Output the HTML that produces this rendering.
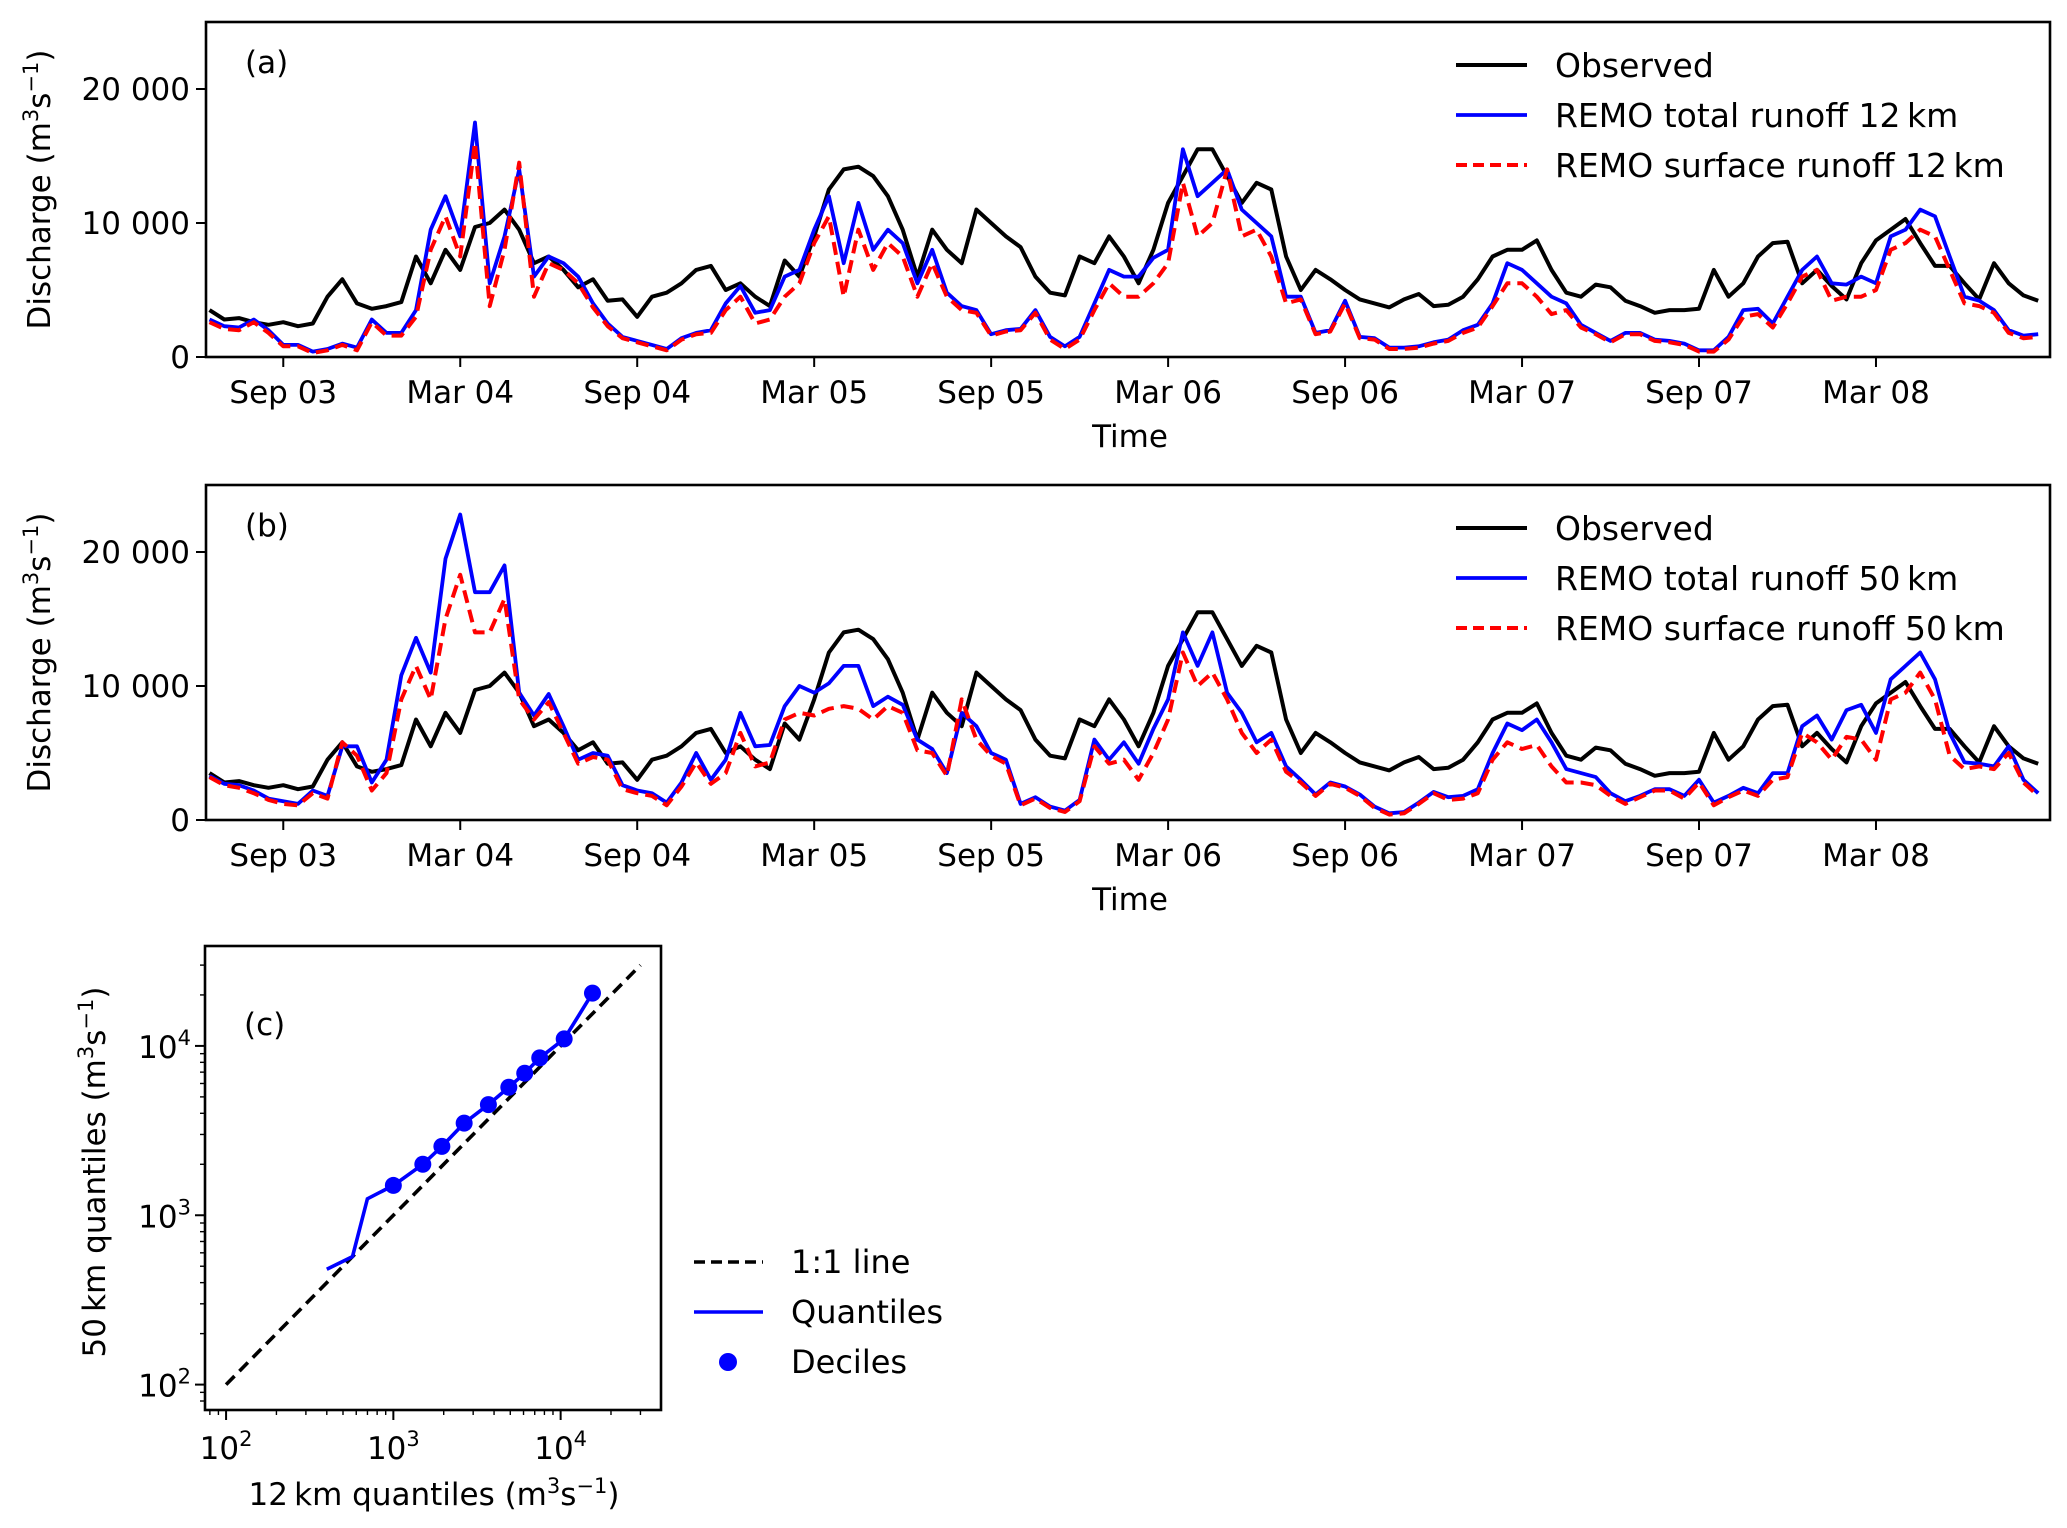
<!DOCTYPE html>
<html><head><meta charset="utf-8">
<style>
html,body{margin:0;padding:0;background:#fff;}
svg{display:block;font-family:"DejaVu Sans","Liberation Sans",sans-serif;}
</style></head>
<body>
<svg id="fig" width="2067" height="1528" viewBox="0 0 2067 1528" xmlns="http://www.w3.org/2000/svg"></svg>
<script>
// ---- time grid: half-month steps, months since 1 Sep 2003 ----
const tStart = -2.5, tStep = 0.5;
const observed = [3500,2800,2900,2600,2400,
2600,2300,2500,4500,5800,4000,3600,3800,4100,7500,5500,8000,
6500,9700,10000,11000,9500,7000,7500,6500,5200,5800,4200,4300,
3000,4500,4800,5500,6500,6800,5000,5500,4500,3800,7200,6000,
9000,12500,14000,14200,13500,12000,9500,6000,9500,8000,7000,11000,
10000,9000,8200,6000,4800,4600,7500,7000,9000,7500,5500,8000,
11500,13500,15500,15500,13500,11500,13000,12500,7500,5000,6500,5800,
5000,4300,4000,3700,4300,4700,3800,3900,4500,5800,7500,8000,
8000,8700,6500,4800,4500,5400,5200,4200,3800,3300,3500,3500,
3600,6500,4500,5500,7500,8500,8600,5500,6500,5300,4300,7000,
8700,9500,10300,8500,6800,6800,5500,4300,7000,5500,4600,4200];
const total12 = [2800,2300,2200,2800,2000,
900,900,400,600,1000,700,2800,1800,1800,3500,9500,12000,
9000,17500,5500,9000,14000,6000,7500,7000,6000,4000,2500,1500,
1200,900,600,1400,1800,2000,4000,5300,3300,3500,6000,6500,
9500,12000,7000,11500,8000,9500,8500,5500,8000,4800,3800,3500,
1700,2000,2100,3500,1500,800,1500,4000,6500,6000,6000,7400,
8000,15500,12000,13000,14000,11000,10000,9000,4500,4500,1800,2000,
4200,1500,1400,700,700,800,1100,1300,2000,2400,4000,7000,
6500,5500,4500,4000,2400,1800,1200,1800,1800,1300,1200,1000,
500,500,1500,3500,3600,2500,4500,6500,7500,5500,5400,6000,
5500,9000,9500,11000,10500,7500,4500,4200,3500,2000,1600,1700];
const surface12 = [2600,2100,2000,2600,1800,
800,800,300,500,900,500,2600,1600,1600,3000,8000,10500,
7500,16000,3800,8000,14500,4500,7000,6500,5500,3700,2300,1400,
1100,800,500,1300,1700,1800,3500,4500,2500,2800,4500,5500,
8500,10500,4500,9500,6500,8500,7500,4500,7000,4500,3500,3300,
1600,1900,2000,3300,1300,600,1300,3500,5500,4500,4500,5500,
7000,13000,9000,10000,14000,9000,9500,7500,4000,4300,1700,1900,
4000,1400,1300,600,600,700,1000,1200,1800,2200,3800,5500,
5500,4500,3200,3500,2200,1700,1100,1700,1700,1200,1100,900,
400,400,1300,3000,3200,2200,4000,6000,6500,4200,4500,4500,
5000,8000,8500,9500,9000,6500,4000,3800,3300,1800,1400,1500];
const total50 = [3300,2700,2600,2200,1600,
1400,1200,2200,1800,5500,5500,2800,4500,10800,13600,11000,19500,
22800,17000,17000,19000,9500,7800,9400,7000,4500,5000,4800,2600,
2200,2000,1300,2800,5000,3000,4500,8000,5500,5600,8500,10000,
9500,10200,11500,11500,8500,9200,8600,6000,5300,3500,8000,7000,
5000,4500,1200,1700,1000,700,1500,6000,4500,5800,4200,6800,
9000,14000,11500,14000,9500,8000,5800,6500,4000,3000,1900,2800,
2500,1900,1000,500,600,1300,2100,1700,1800,2300,5000,7200,
6700,7500,5800,3800,3500,3200,2000,1400,1800,2300,2300,1800,
3000,1300,1800,2400,2000,3500,3500,7000,7800,6000,8200,8600,
6500,10500,11500,12500,10500,6500,4300,4200,4000,5500,3000,2000];
const surface50 = [3200,2600,2400,2000,1500,
1200,1100,2000,1600,5800,4800,2200,3500,9000,11500,9000,15000,
18300,14000,14000,16500,9000,7500,8800,6500,4200,4700,4500,2300,
2000,1800,1100,2500,4300,2700,3500,6500,4000,4300,7500,8000,
7800,8300,8500,8300,7500,8500,8000,5200,5000,3300,9000,6000,
4800,4200,1100,1600,900,600,1400,5500,4200,4500,3000,5000,
7500,12500,10000,11000,9000,6500,5000,6000,3600,2800,1800,2700,
2400,1800,900,400,500,1200,2000,1500,1600,2000,4500,5800,
5300,5600,4000,2800,2800,2600,1800,1200,1700,2200,2200,1600,
2800,1100,1700,2200,1800,3000,3200,6500,5800,4500,6200,6000,
4500,9000,9500,11000,9000,4800,3800,4000,3800,5000,2800,1800];
const timeTickLabels = ["Sep 03","Mar 04","Sep 04","Mar 05","Sep 05","Mar 06","Sep 06","Mar 07","Sep 07","Mar 08"];
const timeTickMonths = [0,6,12,18,24,30,36,42,48,54];
const yTickValues = [0,10000,20000];
const yTickLabels = ["0","10 000","20 000"];
// ---- panel c data ----
const quantX = [400,570,700,1000,1500,1950,2650,3700,4900,6100,7500,10500,12500,15500];
const quantY = [480,570,1250,1500,2000,2550,3500,4500,5700,6900,8500,11000,14500,20500];
const decileX = [1000,1500,1950,2650,3700,4900,6100,7500,10500,15500];
const decileY = [1500,2000,2550,3500,4500,5700,6900,8500,11000,20500];
const oneToOne = [100,30000];
const logTickExps = [2,3,4];

const NS="http://www.w3.org/2000/svg";
const svg=document.getElementById('fig');
function mk(tag,attrs,parent){const e=document.createElementNS(NS,tag);for(const k in attrs)e.setAttribute(k,attrs[k]);(parent||svg).appendChild(e);return e;}

const X0=206,X1=2050;
const tMin=-2.62,tMax=59.9;
function xT(t){return X0+(t-tMin)/(tMax-tMin)*(X1-X0);}

function timePanel(top,bottom,series,letter,legendLabels,pname){
  const g=mk('g',{});
  
  
  const yV=v=>bottom-v/25000*(bottom-top);
  const styles=[{c:'#000',w:4,d:null,n:'observed-line'},{c:'#0000ff',w:3.8,d:null,n:'total-runoff-line'},{c:'#ff0000',w:4,d:'13,7',n:'surface-runoff-line'}];
  series.forEach((arr,si)=>{
    let d='';
    arr.forEach((v,i)=>{const t=tStart+i*tStep;d+=(i?'L':'M')+xT(t).toFixed(1)+','+yV(v).toFixed(1);});
    const p=mk('path',{d:d,fill:'none',stroke:styles[si].c,'stroke-width':styles[si].w,'stroke-linejoin':'round'},g);
    if(styles[si].d)p.setAttribute('stroke-dasharray',styles[si].d);
    
    
  });
  const fr=mk('rect',{x:X0,y:top,width:X1-X0,height:bottom-top,fill:'none',stroke:'#000','stroke-width':2.6},g);
  
  
  yTickValues.forEach((v,i)=>{
    mk('line',{x1:X0-10,x2:X0,y1:yV(v),y2:yV(v),stroke:'#000','stroke-width':2},g);
    const tx=mk('text',{x:X0-16,y:yV(v)+11,'text-anchor':'end','font-size':31},g);
    tx.textContent=yTickLabels[i];
    
    
  });
  timeTickMonths.forEach((m,i)=>{
    const x=xT(m);
    mk('line',{x1:x,x2:x,y1:bottom,y2:bottom+10,stroke:'#000','stroke-width':2},g);
    const tx=mk('text',{x:x,y:bottom+46,'text-anchor':'middle','font-size':31},g);
    tx.textContent=timeTickLabels[i];
    
    
  });
  const xl=mk('text',{x:1130,y:bottom+90,'text-anchor':'middle','font-size':31},g);
  xl.textContent='Time';
  
  
  const cy=(top+bottom)/2;
  const yl=mk('text',{x:0,y:0,'text-anchor':'middle','font-size':31,transform:`translate(50,${cy}) rotate(-90)`},g);
  yl.innerHTML='Discharge (m<tspan dy="-12" font-size="21">3</tspan><tspan dy="12">s</tspan><tspan dy="-12" font-size="21">−1</tspan><tspan dy="12">)</tspan>';
  
  
  const pl=mk('text',{x:245,y:top+51,'font-size':31},g);
  pl.textContent=letter;
  
  
  legendLabels.forEach((lab,i)=>{
    const ly=top+43+i*50;
    const ln=mk('line',{x1:1456,x2:1527,y1:ly,y2:ly,stroke:styles[i].c,'stroke-width':styles[i].w},g);
    if(styles[i].d)ln.setAttribute('stroke-dasharray','11,6');
    
    
    const tx=mk('text',{x:1555,y:ly+12,'font-size':33},g);
    tx.textContent=lab;
    
    
  });
}
timePanel(22,357,[observed,total12,surface12],'(a)',['Observed','REMO total runoff 12\u2009km','REMO surface runoff 12\u2009km'],'panel-a');
timePanel(485,820,[observed,total50,surface50],'(b)',['Observed','REMO total runoff 50\u2009km','REMO surface runoff 50\u2009km'],'panel-b');

// ---- panel c ----
const CL=205,CR=661,CT=946,CB=1410;
const lxMin=1.874,lxMax=4.6,lyMin=1.85,lyMax=4.59;
const cx=v=>CL+(Math.log10(v)-lxMin)/(lxMax-lxMin)*(CR-CL);
const cy=v=>CB-(Math.log10(v)-lyMin)/(lyMax-lyMin)*(CB-CT);
const gc=mk('g',{});


const ol=mk('line',{x1:cx(oneToOne[0]),y1:cy(oneToOne[0]),x2:cx(oneToOne[1]),y2:cy(oneToOne[1]),stroke:'#000','stroke-width':3.6,'stroke-dasharray':'12,7'},gc);


let qd='';quantX.forEach((v,i)=>{qd+=(i?'L':'M')+cx(v).toFixed(1)+','+cy(quantY[i]).toFixed(1);});
const ql=mk('path',{d:qd,fill:'none',stroke:'#0000ff','stroke-width':3.6},gc);


decileX.forEach((v,i)=>{
  const c=mk('circle',{cx:cx(v),cy:cy(decileY[i]),r:8.5,fill:'#0000ff'},gc);
  
  
});
const cf=mk('rect',{x:CL,y:CT,width:CR-CL,height:CB-CT,fill:'none',stroke:'#000','stroke-width':2.6},gc);


for(let e=1;e<=4;e++){for(let m=1;m<10;m++){const v=m*Math.pow(10,e);
  const L=Math.log10(v);const major=(m===1);const len=major?10:5;
  if(L>=lxMin&&L<=lxMax)mk('line',{x1:cx(v),x2:cx(v),y1:CB,y2:CB+len,stroke:'#000','stroke-width':major?2:1.4},gc);
  if(L>=lyMin&&L<=lyMax)mk('line',{x1:CL-len,x2:CL,y1:cy(v),y2:cy(v),stroke:'#000','stroke-width':major?2:1.4},gc);
}}
logTickExps.forEach(e=>{
  const v=Math.pow(10,e);
  const tx=mk('text',{x:cx(v),y:CB+49,'text-anchor':'middle','font-size':31},gc);
  tx.innerHTML='10<tspan dy="-13" font-size="21">'+e+'</tspan>';
  
  
  const ty=mk('text',{x:CL-14,y:cy(v)+12,'text-anchor':'end','font-size':31},gc);
  ty.innerHTML='10<tspan dy="-13" font-size="21">'+e+'</tspan>';
  
  
});
const cxl=mk('text',{x:434,y:1505,'text-anchor':'middle','font-size':31},gc);
cxl.innerHTML='12\u2009km quantiles (m<tspan dy="-12" font-size="21">3</tspan><tspan dy="12">s</tspan><tspan dy="-12" font-size="21">−1</tspan><tspan dy="12">)</tspan>';


const cyl=mk('text',{x:0,y:0,'text-anchor':'middle','font-size':31,transform:'translate(105,1172) rotate(-90)'},gc);
cyl.innerHTML='50\u2009km quantiles (m<tspan dy="-12" font-size="21">3</tspan><tspan dy="12">s</tspan><tspan dy="-12" font-size="21">−1</tspan><tspan dy="12">)</tspan>';


const cpl=mk('text',{x:244,y:1035,'font-size':31},gc);
cpl.textContent='(c)';


const lg=mk('g',{},gc);


const l1=mk('line',{x1:694,x2:763,y1:1262,y2:1262,stroke:'#000','stroke-width':3.6,'stroke-dasharray':'11,6'},lg);


const l2=mk('line',{x1:694,x2:763,y1:1312,y2:1312,stroke:'#0000ff','stroke-width':3.6},lg);


const l3=mk('circle',{cx:728,cy:1362,r:9,fill:'#0000ff'},lg);


['1:1 line','Quantiles','Deciles'].forEach((s,i)=>{
  const t=mk('text',{x:791,y:1273+i*50,'font-size':32},lg);
  t.textContent=s;
  
  
});
</script>
</body></html>
